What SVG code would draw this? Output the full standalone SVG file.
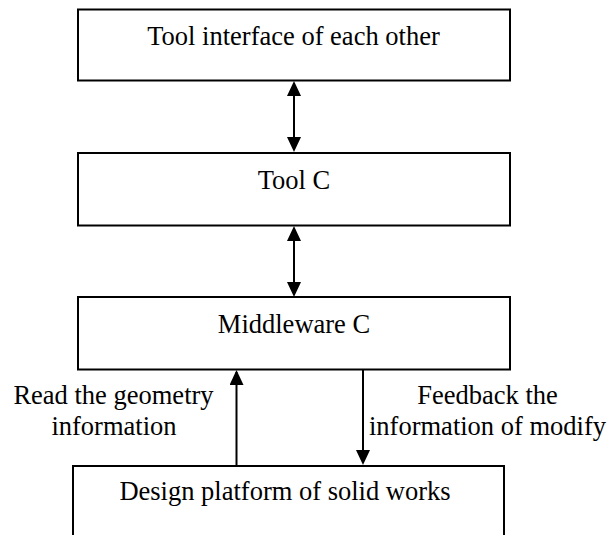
<svg xmlns="http://www.w3.org/2000/svg" width="616" height="535" viewBox="0 0 616 535" font-family="Liberation Serif, Times New Roman, serif">
  <style>
    .box { fill: #ffffff; stroke: #000000; stroke-width: 2; }
    text { font-family: 'Liberation Serif', 'Times New Roman', Times, serif; font-size: 26.5px; fill: #000000; text-anchor: middle; }
    .link { fill: none; stroke: #000000; stroke-width: 2; }
  </style>
  <defs>
    <marker id="head" viewBox="0 0 15 14" refX="13" refY="7" markerWidth="15" markerHeight="14" markerUnits="userSpaceOnUse" orient="auto-start-reverse">
      <path d="M0,0 L15,7 L0,14 Z" fill="#000000"/>
    </marker>
  </defs>
  <rect width="616" height="535" fill="#ffffff"/>

  <g id="node-tool-interface">
    <rect class="box" x="78" y="9.5" width="432" height="71"/>
    <text x="293.5" y="45">Tool interface of each other</text>
  </g>

  <g id="node-tool-c">
    <rect class="box" x="78" y="153" width="432" height="72.5"/>
    <text x="294" y="189">Tool C</text>
  </g>

  <g id="node-middleware-c">
    <rect class="box" x="78" y="297" width="432" height="72.5"/>
    <text x="294" y="333">Middleware C</text>
  </g>

  <g id="node-design-platform">
    <rect class="box" x="73" y="466" width="431" height="80"/>
    <text x="285" y="500">Design platform of solid works</text>
  </g>

  <g id="connectors">
    <line class="link" x1="294" y1="83" x2="294" y2="150" marker-start="url(#head)" marker-end="url(#head)"/>
    <line class="link" x1="294" y1="228" x2="294" y2="295" marker-start="url(#head)" marker-end="url(#head)"/>
    <line class="link" x1="236.5" y1="466" x2="236.5" y2="372" marker-end="url(#head)"/>
    <line class="link" x1="363" y1="369.5" x2="363" y2="463" marker-end="url(#head)"/>
    <text x="113.5" y="404">Read the geometry</text>
    <text x="114" y="435">information</text>
    <text x="487.5" y="404">Feedback the</text>
    <text x="487.5" y="435">information of modify</text>
  </g>
</svg>
